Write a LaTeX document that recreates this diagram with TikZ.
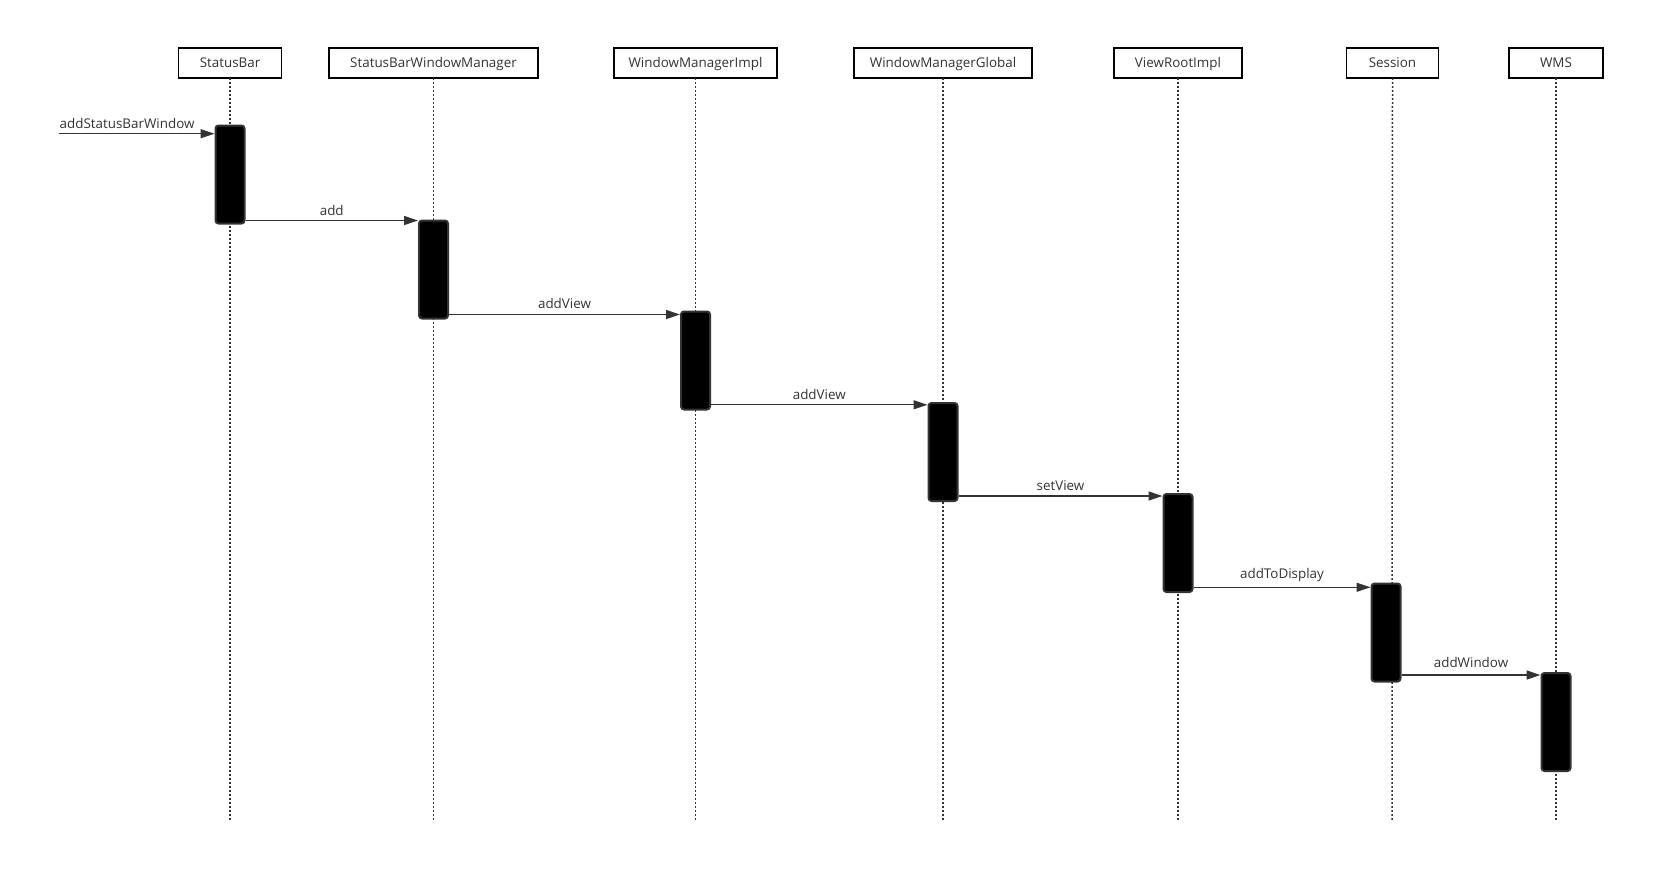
\documentclass[tikz,border=0pt]{standalone}
\usepackage{fontspec}
\setmainfont{Open Sans}
\usetikzlibrary{arrows.meta}
\definecolor{ln}{HTML}{333333}
\begin{document}
\begin{tikzpicture}[x=1pt,y=-1pt,
  head/.style={draw=black,line width=1.6pt,fill=white,minimum height=30pt,inner sep=0pt,text height=9.6pt,text depth=0pt,font=\fontsize{13.4}{15}\selectfont,text=ln},
  life/.style={draw=ln,line width=1.5pt,dash pattern=on 1.8pt off 2.2pt},
  act/.style={draw=ln,fill=black,line width=2pt,rounded corners=3pt,minimum width=29pt,minimum height=98pt,inner sep=0pt,anchor=north},
  msg/.style={draw=ln,line width=1.3pt,-{Triangle[length=14pt,width=9pt]}},
  lbl/.style={font=\fontsize{13.4}{15}\selectfont,text=ln,inner sep=1pt,anchor=base}
]
\useasboundingbox (0,0) rectangle (1665,883);
% headers
\node[head,minimum width=103pt] (h1) at (230,62.8) {StatusBar};
\node[head,minimum width=209pt] (h2) at (433.5,62.8) {StatusBarWindowManager};
\node[head,minimum width=163pt] (h3) at (695.5,62.8) {WindowManagerImpl};
\node[head,minimum width=178pt] (h4) at (943,62.8) {WindowManagerGlobal};
\node[head,minimum width=128pt] (h5) at (1178,62.8) {ViewRootImpl};
\node[head,minimum width=92pt] (h6) at (1392.5,62.8) {Session};
\node[head,minimum width=94pt] (h7) at (1556,62.8) {WMS};
% lifeline ends
\coordinate (e1) at (230,821);
\coordinate (e2) at (433.5,821);
\coordinate (e3) at (695.5,821);
\coordinate (e4) at (943,821);
\coordinate (e5) at (1178,821);
\coordinate (e6) at (1392,821);
\coordinate (e7) at (1556,821);
\foreach \i in {1,...,7}{\draw[life] (h\i.south |- 0,78) -- (e\i);}
% activations
\node[act] (a1) at (230,124.5) {};
\node[act] (a2) at (433.5,219.5) {};
\node[act] (a3) at (695.5,310.5) {};
\node[act] (a4) at (943,402) {};
\node[act] (a5) at (1178,493) {};
\node[act] (a6) at (1386,582.5) {};
\node[act] (a7) at (1556,672) {};
% messages
\coordinate (s0) at (58.5,133.7);
\draw[msg] (s0) -- (a1.west |- s0);
\node[lbl,anchor=base west] at (58.5,128.5) {addStatusBarWindow};
\draw[msg] (a1.east |- 0,220.5) -- node[lbl,above=5pt,anchor=base]{add} (a2.west |- 0,220.5);
\draw[msg] (a2.east |- 0,314.5) -- node[lbl,above=6.5pt,anchor=base]{addView} (a3.west |- 0,314.5);
\draw[msg] (a3.east |- 0,404.8) -- node[lbl,above=5pt,anchor=base]{addView} (a4.west |- 0,404.8);
\draw[msg] (a4.east |- 0,496) -- node[lbl,above=5.5pt,anchor=base]{setView} (a5.west |- 0,496);
\draw[msg] (a5.east |- 0,587.3) -- node[lbl,above=8.5pt,anchor=base]{addToDisplay} (a6.west |- 0,587.3);
\draw[msg] (a6.east |- 0,675) -- node[lbl,above=7.5pt,anchor=base]{addWindow} (a7.west |- 0,675);
\end{tikzpicture}
\end{document}
